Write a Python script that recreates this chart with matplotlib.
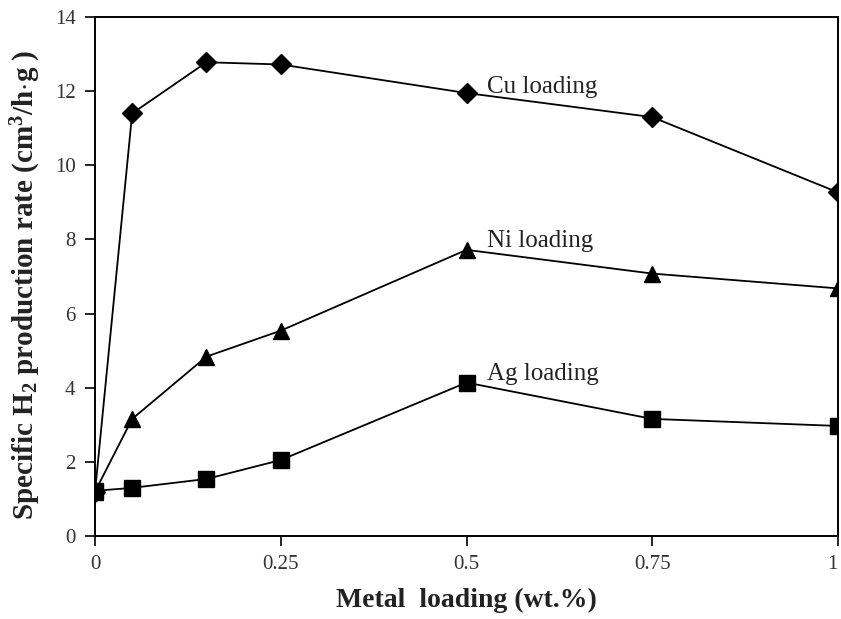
import matplotlib

matplotlib.use("Agg")
import matplotlib.pyplot as plt  # noqa: E402

# values
LOADING = [0, 0.05, 0.15, 0.25, 0.5, 0.75, 1.0]
CU_RATE = [1.2, 11.4, 12.78, 12.72, 11.95, 11.3, 9.27]
NI_RATE = [1.2, 3.16, 4.84, 5.54, 7.72, 7.08, 6.68]
AG_RATE = [1.22, 1.3, 1.54, 2.05, 4.14, 3.16, 2.97]
X_TICKS = [0, 0.25, 0.5, 0.75, 1]
X_TICK_LABELS = ["0", "0.25", "0.5", "0.75", "1"]
Y_TICKS = [0, 2, 4, 6, 8, 10, 12, 14]

plt.rcParams["font.family"] = ["Liberation Serif", "DejaVu Serif"]
plt.rcParams["mathtext.fontset"] = "custom"
plt.rcParams["mathtext.rm"] = "Liberation Serif:bold"
plt.rcParams["mathtext.it"] = "Liberation Serif:bold:italic"
plt.rcParams["mathtext.bf"] = "Liberation Serif:bold"

fig = plt.figure(figsize=(8.41, 6.19), dpi=100)
ax = fig.add_axes([0.113, 0.134, 0.8834, 0.8385])

series = [
    (CU_RATE, "D", 10, "Cu loading", 12.1),
    (NI_RATE, "^", 11, "Ni loading", 7.95),
    (AG_RATE, "s", 12, "Ag loading", 4.38),
]
for ys, marker, ms, label, ty in series:
    ax.plot(LOADING, ys, color="black", linewidth=1.3, marker=marker,
            markersize=ms, markerfacecolor="black", markeredgecolor="black")
    ax.text(0.528, ty, label, fontsize=18, color="#222222",
            ha="left", va="center")

ax.set_xlim(0, 1)
ax.set_ylim(0, 14)
ax.set_xticks(X_TICKS)
ax.set_xticklabels(X_TICK_LABELS)
ax.set_yticks(Y_TICKS)
ax.tick_params(direction="out", length=7, width=1.2, labelsize=15,
               labelcolor="#333333", pad=7)
# keep the last x tick label inside the figure edge
ax.get_xticklabels()[-1].set_horizontalalignment("right")
for sp in ax.spines.values():
    sp.set_linewidth(1.4)

ax.set_xlabel("Metal  loading (wt.%)", fontsize=20, fontweight="bold",
              color="#222222")
ax.xaxis.set_label_coords(0.5, -0.1)
ax.set_ylabel(r"Specific H$_2$ production rate (cm$^3$/h$\cdot$g )",
              fontsize=21, fontweight="bold", color="#222222")
ax.yaxis.set_label_coords(-0.07, 0.485)

plt.savefig("out.png", dpi=100)
